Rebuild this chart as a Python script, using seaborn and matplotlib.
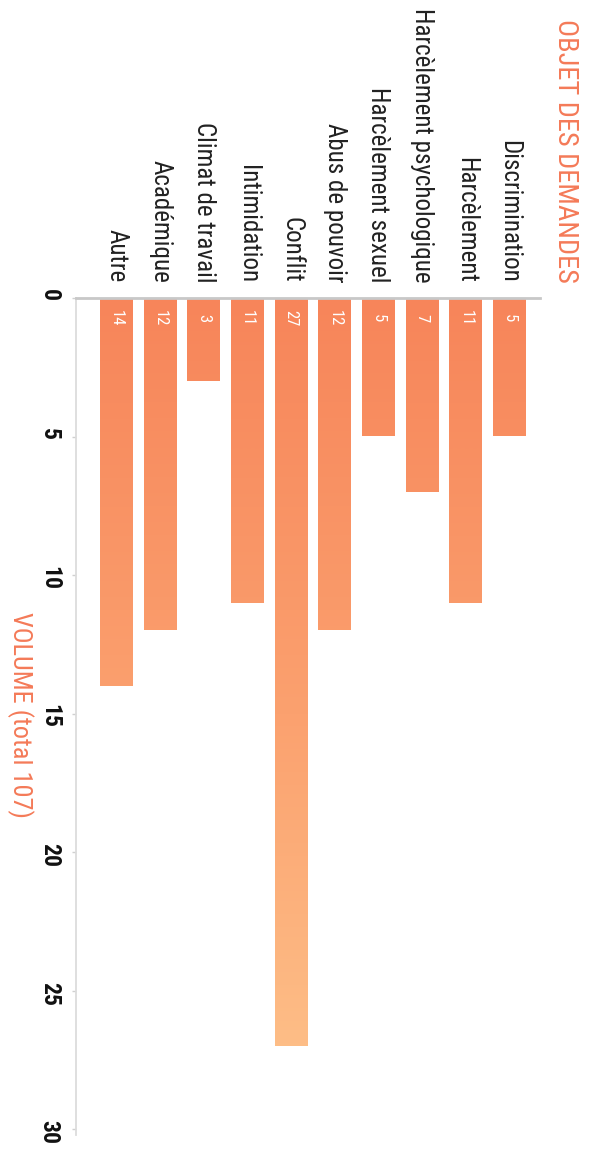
import numpy as np
import pandas as pd
import matplotlib
matplotlib.use("Agg")
import matplotlib.pyplot as plt
from matplotlib import font_manager
from matplotlib.colors import LinearSegmentedColormap
import seaborn as sns

# Request subjects and their counts (total 107)
categories = ["Discrimination", "Harcèlement", "Harcèlement psychologique",
              "Harcèlement sexuel", "Abus de pouvoir", "Conflit", "Intimidation",
              "Climat de travail", "Académique", "Autre"]
volumes = [5, 11, 7, 5, 12, 27, 11, 3, 12, 14]
value_ticks = [0, 5, 10, 15, 20, 25, 30]
title_text = "OBJET DES DEMANDES"
axis_label = "VOLUME (total 107)"

ACCENT = "#F47A58"


def pick_family():
    entries = font_manager.fontManager.ttflist
    names = {f.name for f in entries}
    for n in ("Roboto Condensed", "Liberation Sans Narrow", "DejaVu Sans Condensed",
              "Noto Sans Condensed", "Open Sans Condensed"):
        if n in names:
            return n, "normal"
    for f in entries:
        if f.name == "DejaVu Sans" and "ondensed" in f.fname:
            return "DejaVu Sans", "condensed"
    return "Roboto", "normal"


family, stretch = pick_family()

sns.set_theme(style="white")
plt.rcParams["font.family"] = [family, "DejaVu Sans"]
plt.rcParams["font.stretch"] = stretch

W, H = 597, 1149
fig = plt.figure(figsize=(W / 100, H / 100), dpi=100)
fig.patch.set_facecolor("white")

top_px, bottom_px, left_px, right_px = 298, 1135, 76, 540
ax_w = right_px - left_px
ax = fig.add_axes([left_px / W, 1 - bottom_px / H,
                   ax_w / W, (bottom_px - top_px) / H])

df = pd.DataFrame({"objet": categories, "volume": volumes})
order = categories[::-1]
sns.barplot(data=df, x="objet", y="volume", order=order, width=0.755,
            color=ACCENT, saturation=1, ax=ax)

ymax = 30 + (bottom_px - 1129) / 27.7

# vertical gradient fill on every bar, keyed to the value scale
cmap = LinearSegmentedColormap.from_list("peach", ["#F7855A", "#FBA16F", "#FEC48C"])
grad = np.linspace(0, 30, 256).reshape(-1, 1)
for p in list(ax.patches):
    x0, w = p.get_x(), p.get_width()
    im = ax.imshow(grad, extent=(x0, x0 + w, 30, 0), cmap=cmap, vmin=0, vmax=30,
                   aspect="auto", origin="upper", zorder=2, interpolation="bilinear")
    im.set_clip_path(p)
    p.set_facecolor("none")
    p.set_edgecolor("none")

ax.set_xlim(-0.93, 9.70)
ax.set_ylim(ymax, 0)

# value labels inside the bars
for i, name in enumerate(order):
    v = volumes[categories.index(name)]
    ax.text(i, 0.72, str(v), rotation=-90, ha="center", va="center",
            color="white", fontsize=12, zorder=4)

# category labels along the top
ax.xaxis.tick_top()
ax.set_xticks(range(len(order)))
ax.set_xticklabels(order, rotation=-90, fontsize=18, color="#222222")
ax.tick_params(axis="x", length=0, pad=11, labeltop=True, labelbottom=False)
ax.set_xlabel("")

# value scale on the left
ax.set_yticks(value_ticks)
ax.set_yticklabels([str(t) for t in value_ticks], rotation=-90, fontsize=17,
                   fontweight="bold", color="#111111")
ax.tick_params(axis="y", length=3, width=1, color="#d0d0d0", pad=8, left=True)
ax.set_ylabel(axis_label, rotation=-90, color=ACCENT, fontsize=19)
ax.yaxis.set_label_coords((7 - left_px) / ax_w, (bottom_px - 715) / (bottom_px - top_px))

for side in ("right", "bottom"):
    ax.spines[side].set_visible(False)
ax.spines["left"].set_color("#dcdcdc")
ax.spines["left"].set_linewidth(1.3)
ax.spines["top"].set_color("#c8c8c8")
ax.spines["top"].set_linewidth(2.0)
ax.spines["top"].set_zorder(5)
ax.grid(False)

fig.text(566 / W, 1 - 19 / H, title_text, rotation=-90, ha="center", va="top",
         color=ACCENT, fontsize=20.5)

fig.savefig("out.png", dpi=100, facecolor="white")
